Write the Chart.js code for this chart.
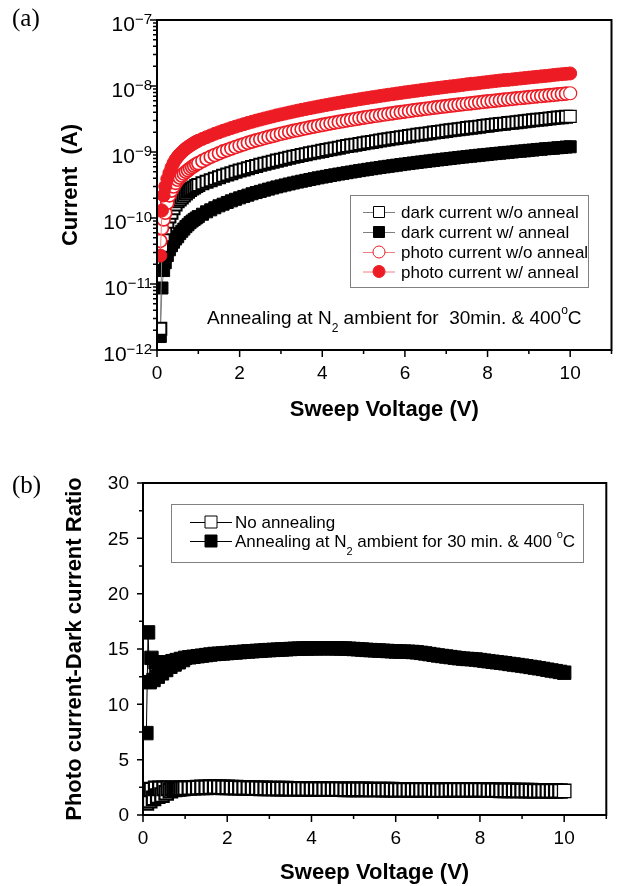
<!DOCTYPE html>
<html><head><meta charset="utf-8">
<script src="https://cdn.jsdelivr.net/npm/chart.js@4.4.1/dist/chart.umd.min.js"></script>
<style>
html,body{margin:0;padding:0;background:#fff;overflow:hidden;width:618px;height:886px;}
#wrap{position:relative;width:618px;height:886px;overflow:hidden;background:#fff;}
canvas{position:absolute;left:0;}
#c1{top:0;}
#c2{top:440px;}
.lab{position:absolute;font-family:"Liberation Serif","Times New Roman",serif;font-size:25px;line-height:25px;color:#000;}
</style></head><body>
<div id="wrap">
<canvas id="c1" width="622" height="440" style="width:622px;height:440px"></canvas>
<canvas id="c2" width="618" height="446" style="width:618px;height:446px"></canvas>
<div class="lab" style="left:12px;top:5px">(a)</div>
<div class="lab" style="left:12px;top:472px">(b)</div>
</div>
<script>
// ---------- data ----------
const voltage = [0.08,0.12,0.16,0.2,0.25,0.3,0.35,0.4,0.45,0.5,0.55,0.6,0.65,0.7,0.75,0.8,0.85,0.9,0.95,
1.0,1.1,1.2,1.3,1.4,1.5,1.6,1.7,1.8,1.9,
2.0,2.1,2.2,2.3,2.4,2.5,2.6,2.7,2.8,2.9,
3.0,3.1,3.2,3.3,3.4,3.5,3.6,3.7,3.8,3.9,
4.0,4.1,4.2,4.3,4.4,4.5,4.6,4.7,4.8,4.9,
5.0,5.1,5.2,5.3,5.4,5.5,5.6,5.7,5.8,5.9,
6.0,6.1,6.2,6.3,6.4,6.5,6.6,6.7,6.8,6.9,
7.0,7.1,7.2,7.3,7.4,7.5,7.6,7.7,7.8,7.9,
8.0,8.1,8.2,8.3,8.4,8.5,8.6,8.7,8.8,8.9,
9.0,9.1,9.2,9.3,9.4,9.5,9.6,9.7,9.8,9.9,
10.0];

// Current (A)
const darkWoAnneal = [2.1e-12,3.8e-11,5.5e-11,7.0e-11,8.8e-11,1.05e-10,1.2e-10,1.4e-10,1.6e-10,1.8e-10,1.9e-10,2.05e-10,2.2e-10,2.35e-10,2.5e-10,2.65e-10,2.8e-10,2.9e-10,3.05e-10,
3.16e-10,3.35e-10,3.54e-10,3.74e-10,3.94e-10,4.15e-10,4.36e-10,4.57e-10,4.78e-10,5.01e-10,
5.23e-10,5.45e-10,5.69e-10,5.92e-10,6.15e-10,6.40e-10,6.64e-10,6.89e-10,7.14e-10,7.40e-10,
7.65e-10,7.92e-10,8.18e-10,8.45e-10,8.72e-10,9.00e-10,9.28e-10,9.56e-10,9.85e-10,1.01e-9,
1.04e-9,1.07e-9,1.10e-9,1.13e-9,1.16e-9,1.20e-9,1.23e-9,1.26e-9,1.29e-9,1.32e-9,
1.36e-9,1.39e-9,1.42e-9,1.46e-9,1.49e-9,1.53e-9,1.56e-9,1.60e-9,1.63e-9,1.67e-9,
1.70e-9,1.74e-9,1.78e-9,1.82e-9,1.85e-9,1.89e-9,1.93e-9,1.97e-9,2.01e-9,2.05e-9,
2.09e-9,2.13e-9,2.17e-9,2.21e-9,2.25e-9,2.30e-9,2.34e-9,2.38e-9,2.42e-9,2.47e-9,
2.51e-9,2.56e-9,2.60e-9,2.65e-9,2.69e-9,2.74e-9,2.78e-9,2.83e-9,2.88e-9,2.92e-9,
2.97e-9,3.02e-9,3.07e-9,3.12e-9,3.16e-9,3.21e-9,3.27e-9,3.32e-9,3.37e-9,3.42e-9,
3.47e-9];

const darkWAnneal = [1.6e-12,8.7e-12,1.6e-11,2.1e-11,2.7e-11,3.3e-11,3.8e-11,4.3e-11,4.8e-11,5.2e-11,5.8e-11,6.3e-11,6.8e-11,7.4e-11,7.9e-11,8.5e-11,9.0e-11,9.5e-11,1.0e-10,
1.05e-10,1.14e-10,1.24e-10,1.33e-10,1.43e-10,1.53e-10,1.62e-10,1.72e-10,1.82e-10,1.92e-10,
2.02e-10,2.12e-10,2.22e-10,2.33e-10,2.43e-10,2.53e-10,2.64e-10,2.74e-10,2.85e-10,2.96e-10,
3.06e-10,3.17e-10,3.28e-10,3.39e-10,3.50e-10,3.61e-10,3.72e-10,3.83e-10,3.94e-10,4.06e-10,
4.17e-10,4.28e-10,4.40e-10,4.51e-10,4.63e-10,4.74e-10,4.86e-10,4.98e-10,5.10e-10,5.22e-10,
5.34e-10,5.46e-10,5.58e-10,5.70e-10,5.82e-10,5.95e-10,6.07e-10,6.19e-10,6.32e-10,6.44e-10,
6.57e-10,6.69e-10,6.82e-10,6.95e-10,7.07e-10,7.20e-10,7.33e-10,7.46e-10,7.59e-10,7.72e-10,
7.85e-10,7.98e-10,8.11e-10,8.25e-10,8.38e-10,8.52e-10,8.65e-10,8.78e-10,8.92e-10,9.05e-10,
9.19e-10,9.33e-10,9.47e-10,9.60e-10,9.74e-10,9.88e-10,1.00e-9,1.02e-9,1.03e-9,1.04e-9,
1.06e-9,1.07e-9,1.09e-9,1.10e-9,1.12e-9,1.13e-9,1.14e-9,1.16e-9,1.17e-9,1.19e-9,
1.20e-9];

const photoWoAnneal = [4.5e-11,7.0e-11,9.5e-11,1.2e-10,1.7e-10,2.2e-10,2.6e-10,3.0e-10,3.4e-10,3.8e-10,4.1e-10,4.4e-10,4.7e-10,5.0e-10,5.3e-10,5.6e-10,5.9e-10,6.2e-10,6.5e-10,
6.76e-10,7.32e-10,7.88e-10,8.44e-10,9.01e-10,9.58e-10,1.02e-9,1.07e-9,1.13e-9,1.19e-9,
1.25e-9,1.31e-9,1.38e-9,1.44e-9,1.50e-9,1.56e-9,1.63e-9,1.69e-9,1.75e-9,1.82e-9,
1.89e-9,1.95e-9,2.02e-9,2.09e-9,2.15e-9,2.22e-9,2.29e-9,2.36e-9,2.43e-9,2.50e-9,
2.57e-9,2.64e-9,2.72e-9,2.79e-9,2.86e-9,2.94e-9,3.01e-9,3.08e-9,3.16e-9,3.24e-9,
3.31e-9,3.39e-9,3.47e-9,3.54e-9,3.62e-9,3.70e-9,3.78e-9,3.86e-9,3.94e-9,4.02e-9,
4.10e-9,4.18e-9,4.27e-9,4.35e-9,4.43e-9,4.52e-9,4.60e-9,4.69e-9,4.77e-9,4.86e-9,
4.94e-9,5.03e-9,5.12e-9,5.21e-9,5.29e-9,5.38e-9,5.47e-9,5.56e-9,5.65e-9,5.74e-9,
5.83e-9,5.93e-9,6.02e-9,6.11e-9,6.20e-9,6.30e-9,6.39e-9,6.49e-9,6.58e-9,6.68e-9,
6.77e-9,6.87e-9,6.97e-9,7.06e-9,7.16e-9,7.26e-9,7.36e-9,7.46e-9,7.56e-9,7.66e-9,
7.76e-9];

const photoWAnneal = [2.7e-11,1.3e-10,2.2e-10,3.0e-10,3.9e-10,4.8e-10,5.8e-10,6.8e-10,7.7e-10,8.5e-10,9.2e-10,9.9e-10,1.06e-9,1.13e-9,1.19e-9,1.25e-9,1.31e-9,1.37e-9,1.43e-9,
1.48e-9,1.58e-9,1.68e-9,1.78e-9,1.89e-9,1.99e-9,2.10e-9,2.20e-9,2.31e-9,2.42e-9,
2.53e-9,2.64e-9,2.76e-9,2.87e-9,2.99e-9,3.10e-9,3.22e-9,3.34e-9,3.46e-9,3.59e-9,
3.71e-9,3.83e-9,3.96e-9,4.09e-9,4.22e-9,4.35e-9,4.48e-9,4.61e-9,4.74e-9,4.88e-9,
5.02e-9,5.15e-9,5.29e-9,5.43e-9,5.57e-9,5.71e-9,5.86e-9,6.00e-9,6.15e-9,6.30e-9,
6.45e-9,6.60e-9,6.75e-9,6.90e-9,7.05e-9,7.21e-9,7.37e-9,7.52e-9,7.68e-9,7.84e-9,
8.01e-9,8.17e-9,8.33e-9,8.49e-9,8.66e-9,8.83e-9,9.00e-9,9.17e-9,9.34e-9,9.51e-9,
9.69e-9,9.86e-9,1.00e-8,1.02e-8,1.04e-8,1.06e-8,1.08e-8,1.09e-8,1.11e-8,1.13e-8,
1.15e-8,1.17e-8,1.19e-8,1.21e-8,1.23e-8,1.24e-8,1.26e-8,1.28e-8,1.30e-8,1.32e-8,
1.34e-8,1.36e-8,1.38e-8,1.40e-8,1.42e-8,1.44e-8,1.47e-8,1.49e-8,1.51e-8,1.53e-8,
1.55e-8];

// Photo current / dark current ratio
const ratioNoAnneal = [1.1,2.2,1.3,2.3,1.5,2.4,1.7,2.4,1.8,2.4,2.0,2.4,2.2,2.4,2.3,2.4,2.35,2.4,2.4,
2.42,2.44,2.46,2.48,2.50,2.50,2.52,2.53,2.52,2.50,
2.50,2.48,2.47,2.46,2.45,2.44,2.43,2.42,2.41,2.40,
2.39,2.39,2.38,2.38,2.38,2.37,2.37,2.36,2.36,2.35,
2.35,2.35,2.34,2.34,2.34,2.33,2.33,2.33,2.32,2.32,
2.32,2.31,2.31,2.31,2.30,2.30,2.30,2.29,2.29,2.29,
2.28,2.28,2.28,2.27,2.27,2.27,2.26,2.26,2.26,2.25,
2.25,2.25,2.25,2.26,2.27,2.27,2.28,2.28,2.27,2.27,
2.26,2.26,2.25,2.25,2.24,2.23,2.23,2.22,2.22,2.21,
2.21,2.20,2.20,2.19,2.19,2.19,2.18,2.18,2.18,2.17,
2.17];

const ratioAnneal = [7.4,16.5,12.0,14.2,12.2,13.8,12.5,13.6,12.8,13.7,13.1,13.8,13.4,13.9,13.6,14.0,13.8,14.1,14.0,
14.2,14.25,14.3,14.35,14.4,14.45,14.5,14.55,14.57,14.6,
14.63,14.66,14.69,14.72,14.75,14.78,14.8,14.83,14.85,14.88,
14.9,14.92,14.94,14.96,14.98,15.0,15.02,15.03,15.04,15.05,
15.06,15.06,15.07,15.07,15.07,15.07,15.06,15.05,15.04,15.02,
15.0,14.98,14.95,14.92,14.9,14.88,14.86,14.84,14.82,14.8,
14.78,14.77,14.76,14.75,14.73,14.7,14.65,14.6,14.54,14.48,
14.42,14.37,14.32,14.27,14.22,14.17,14.13,14.1,14.08,14.05,
14.0,13.95,13.9,13.85,13.8,13.76,13.71,13.65,13.6,13.55,
13.5,13.44,13.38,13.32,13.26,13.2,13.13,13.06,13.0,12.93,
12.86];

const currentLabels = ['dark current w/o anneal','dark current w/ anneal','photo current w/o anneal','photo current w/ anneal'];
const ratioLabels = [[['No annealing',0]],
  [['Annealing at N',0],['2',1],[' ambient for 30 min. & 400 ',0],['o',2],['C',0]]];
const noteA = [['Annealing at N',0],['2',1],[' ambient for  30min. & 400',0],['o',2],['C',0]];
const xTickLabels = [0,2,4,6,8,10];
const xMinorTicks = [1,3,5,7,9,11];
const logExponents = [-12,-11,-10,-9,-8,-7];
const ratioTicks = [0,5,10,15,20,25,30];
const ratioMinor = [2.5,7.5,12.5,17.5,22.5,27.5];

// ---------- helpers ----------
const FONT = '"Liberation Sans", Arial, Helvetica, sans-serif';
const RED = '#ed1c24';
Chart.defaults.font.family = FONT;
Chart.defaults.color = '#000';
const pts = arr => voltage.map((v, i) => ({x: v, y: arr[i]}));
const LAST = voltage.length - 1;
// dense stacked open markers: heavier outline inside the band, thin on the last one
const openBorder = (inner, last) => c => (c.dataIndex === LAST ? last : inner);

function drawRich(ctx, x, y, parts, size) {
  let cx = x;
  ctx.textAlign = 'left';
  ctx.textBaseline = 'alphabetic';
  for (const [t, m] of parts) {
    const fs = m ? Math.round(size * 0.65) : size;
    ctx.font = fs + 'px ' + FONT;
    const dy = m === 1 ? size * 0.45 : (m === 2 ? -size * 0.52 : 0);
    ctx.fillText(t, cx, y + dy);
    cx += ctx.measureText(t).width;
  }
}
function marker(ctx, style, x, y, size, fill, stroke) {
  ctx.save();
  ctx.lineWidth = 1;
  ctx.fillStyle = fill; ctx.strokeStyle = stroke;
  ctx.beginPath();
  if (style === 'rect') ctx.rect(x - size / 2, y - size / 2, size, size);
  else ctx.arc(x, y, size / 2, 0, Math.PI * 2);
  ctx.fill(); ctx.stroke();
  ctx.restore();
}
function legendRow(ctx, x0, x1, y, lineColor, style, size, fill, stroke) {
  ctx.save();
  ctx.strokeStyle = lineColor; ctx.lineWidth = 1;
  ctx.beginPath(); ctx.moveTo(x0, y + 0.5); ctx.lineTo(x1, y + 0.5); ctx.stroke();
  ctx.restore();
  marker(ctx, style, (x0 + x1) / 2, y, size, fill, stroke);
}

// ---------- chart (a) ----------
const plugA = {
  id: 'decorA',
  afterDraw(chart) {
    const {ctx, chartArea: ca, scales: {x, y}} = chart;
    ctx.save();
    ctx.strokeStyle = '#000';
    ctx.lineWidth = 2;
    ctx.strokeRect(ca.left, ca.top, ca.right - ca.left, ca.bottom - ca.top);
    ctx.lineWidth = 1.5;
    ctx.beginPath();
    xTickLabels.forEach(v => { const p = x.getPixelForValue(v); ctx.moveTo(p, ca.bottom); ctx.lineTo(p, ca.bottom + 7); });
    xMinorTicks.forEach(v => { const p = x.getPixelForValue(v); ctx.moveTo(p, ca.bottom); ctx.lineTo(p, ca.bottom + 4); });
    logExponents.forEach(e => {
      const p = y.getPixelForValue(Math.pow(10, e)); ctx.moveTo(ca.left, p); ctx.lineTo(ca.left - 7, p);
      if (e < -7) for (let m = 2; m <= 9; m++) {
        const q = y.getPixelForValue(m * Math.pow(10, e)); ctx.moveTo(ca.left, q); ctx.lineTo(ca.left - 4, q);
      }
    });
    ctx.stroke();
    ctx.fillStyle = '#000';
    ctx.font = '19px ' + FONT; ctx.textAlign = 'center'; ctx.textBaseline = 'middle';
    xTickLabels.forEach(v => ctx.fillText(String(v), x.getPixelForValue(v), ca.bottom + 23.5));
    ctx.textAlign = 'right'; ctx.textBaseline = 'alphabetic';
    logExponents.forEach(e => {
      const p = y.getPixelForValue(Math.pow(10, e));
      const sup = '\u2212' + Math.abs(e);
      ctx.font = '15px ' + FONT;
      const w = ctx.measureText(sup).width;
      ctx.fillText(sup, ca.left - 5, p + 4);
      ctx.font = '21px ' + FONT;
      ctx.fillText('10', ca.left - 5 - w, p + 11);
    });
    // legend
    ctx.strokeStyle = '#808080'; ctx.lineWidth = 1;
    ctx.strokeRect(350.5, 195.5, 238, 92);
    const rows = [212, 232, 252, 271.5];
    const sty = [
      ['#808080', 'rect', 11, '#fff', '#000'],
      ['#808080', 'rect', 11, '#000', '#000'],
      ['#f08080', 'circle', 12, '#fff', RED],
      ['#f08080', 'circle', 12, RED, RED]
    ];
    rows.forEach((ry, i) => {
      const s = sty[i];
      legendRow(ctx, 363, 395, ry, s[0], s[1], s[2], s[3], s[4]);
      ctx.fillStyle = '#000';
      ctx.font = '17px ' + FONT; ctx.textAlign = 'left'; ctx.textBaseline = 'alphabetic';
      ctx.fillText(currentLabels[i], 401, ry + 6);
    });
    ctx.fillStyle = '#000';
    drawRich(ctx, 207, 323.5, noteA, 19);
    ctx.restore();
  }
};

new Chart(document.getElementById('c1'), {
  type: 'line',
  data: {
    datasets: [
      {label: currentLabels[0], data: pts(darkWoAnneal), borderColor: '#808080', borderWidth: 1, pointStyle: 'rect', pointRadius: 8.5, pointBackgroundColor: '#fff', pointBorderColor: '#000', pointBorderWidth: openBorder(2, 1.2), clip: 0, order: 2, fill: false},
      {label: currentLabels[1], data: pts(darkWAnneal), borderColor: '#808080', borderWidth: 1, pointStyle: 'rect', pointRadius: 8.5, pointBackgroundColor: '#000', pointBorderColor: '#000', pointBorderWidth: 1, clip: 0, order: 3, fill: false},
      {label: currentLabels[2], data: pts(photoWoAnneal), borderColor: '#f08080', borderWidth: 1, pointStyle: 'circle', pointRadius: 6.5, pointBackgroundColor: '#fff', pointBorderColor: RED, pointBorderWidth: openBorder(1.7, 1.2), clip: 0, order: 1, fill: false},
      {label: currentLabels[3], data: pts(photoWAnneal), borderColor: '#f08080', borderWidth: 1, pointStyle: 'circle', pointRadius: 6.5, pointBackgroundColor: RED, pointBorderColor: RED, pointBorderWidth: 1, clip: 0, order: 0, fill: false}
    ]
  },
  options: {
    responsive: false, animation: false, devicePixelRatio: 1, events: [],
    layout: {padding: {left: 0, right: 3, top: 20, bottom: 0}},
    plugins: {legend: {display: false}, tooltip: {enabled: false}},
    scales: {
      x: {type: 'linear', min: 0, max: 11,
          ticks: {display: false}, grid: {display: false}, border: {display: false},
          title: {display: true, text: 'Sweep Voltage (V)', font: {size: 22, weight: 'bold'}, color: '#000', padding: {top: 0, bottom: 16.8}},
          afterFit: s => { s.height = 90; }},
      y: {type: 'logarithmic', min: 1e-12, max: 1e-7,
          ticks: {display: false}, grid: {display: false}, border: {display: false},
          title: {display: true, text: 'Current  (A)', font: {size: 22, weight: 'bold'}, color: '#000', padding: {top: 57.8, bottom: 0}},
          afterFit: s => { s.width = 157; }}
    }
  },
  plugins: [plugA]
});

// ---------- chart (b) ----------
const plugB = {
  id: 'decorB',
  afterDraw(chart) {
    const {ctx, chartArea: ca, scales: {x, y}} = chart;
    ctx.save();
    ctx.strokeStyle = '#000';
    ctx.lineWidth = 2;
    ctx.strokeRect(ca.left, ca.top, ca.right - ca.left, ca.bottom - ca.top);
    ctx.lineWidth = 1.5;
    ctx.beginPath();
    xTickLabels.forEach(v => { const p = x.getPixelForValue(v); ctx.moveTo(p, ca.bottom); ctx.lineTo(p, ca.bottom + 7); });
    xMinorTicks.forEach(v => { const p = x.getPixelForValue(v); ctx.moveTo(p, ca.bottom); ctx.lineTo(p, ca.bottom + 4); });
    ratioTicks.forEach(v => { const p = y.getPixelForValue(v); ctx.moveTo(ca.left, p); ctx.lineTo(ca.left - 6, p); });
    ratioMinor.forEach(v => { const p = y.getPixelForValue(v); ctx.moveTo(ca.left, p); ctx.lineTo(ca.left - 4, p); });
    ctx.stroke();
    ctx.fillStyle = '#000';
    ctx.font = '19px ' + FONT; ctx.textAlign = 'center'; ctx.textBaseline = 'middle';
    xTickLabels.forEach(v => ctx.fillText(String(v), x.getPixelForValue(v), ca.bottom + 23.5));
    ctx.textAlign = 'right';
    ratioTicks.forEach(v => ctx.fillText(String(v), ca.left - 14, y.getPixelForValue(v) + 1));
    // legend
    ctx.strokeStyle = '#808080'; ctx.lineWidth = 1;
    ctx.strokeRect(171.5, 64.5, 412, 58);
    const rows = [82, 101];
    const fills = ['#fff', '#000'];
    rows.forEach((ry, i) => {
      legendRow(ctx, 190, 232, ry, '#000', 'rect', 12, fills[i], '#000');
      ctx.fillStyle = '#000';
      drawRich(ctx, 235, ry + 6, ratioLabels[i], 17);
    });
    ctx.restore();
  }
};

new Chart(document.getElementById('c2'), {
  type: 'line',
  data: {
    datasets: [
      {label: 'No annealing', data: pts(ratioNoAnneal), borderColor: '#000', borderWidth: 1, pointStyle: 'rect', pointRadius: 9.5, pointBackgroundColor: '#fff', pointBorderColor: '#000', pointBorderWidth: openBorder(2.2, 1.3), clip: 0, order: 0, fill: false},
      {label: 'Annealing at N2 ambient for 30 min. & 400 °C', data: pts(ratioAnneal), borderColor: '#000', borderWidth: 1, pointStyle: 'rect', pointRadius: 9.5, pointBackgroundColor: '#000', pointBorderColor: '#000', pointBorderWidth: 1, clip: 0, order: 1, fill: false}
    ]
  },
  options: {
    responsive: false, animation: false, devicePixelRatio: 1, events: [],
    layout: {padding: {left: 0, right: 2, top: 43, bottom: 0}},
    plugins: {legend: {display: false}, tooltip: {enabled: false}},
    scales: {
      x: {type: 'linear', min: 0, max: 11,
          ticks: {display: false}, grid: {display: false}, border: {display: false},
          title: {display: true, text: 'Sweep Voltage (V)', font: {size: 22, weight: 'bold'}, color: '#000', padding: {top: 0, bottom: 0}},
          afterFit: s => { s.height = 71; }},
      y: {type: 'linear', min: 0, max: 30,
          ticks: {display: false}, grid: {display: false}, border: {display: false},
          title: {display: true, text: 'Photo current-Dark current Ratio', font: {size: 22, weight: 'bold'}, color: '#000', padding: {top: 61.3, bottom: 0}},
          afterFit: s => { s.width = 143; }}
    }
  },
  plugins: [plugB]
});
</script>
</body></html>
